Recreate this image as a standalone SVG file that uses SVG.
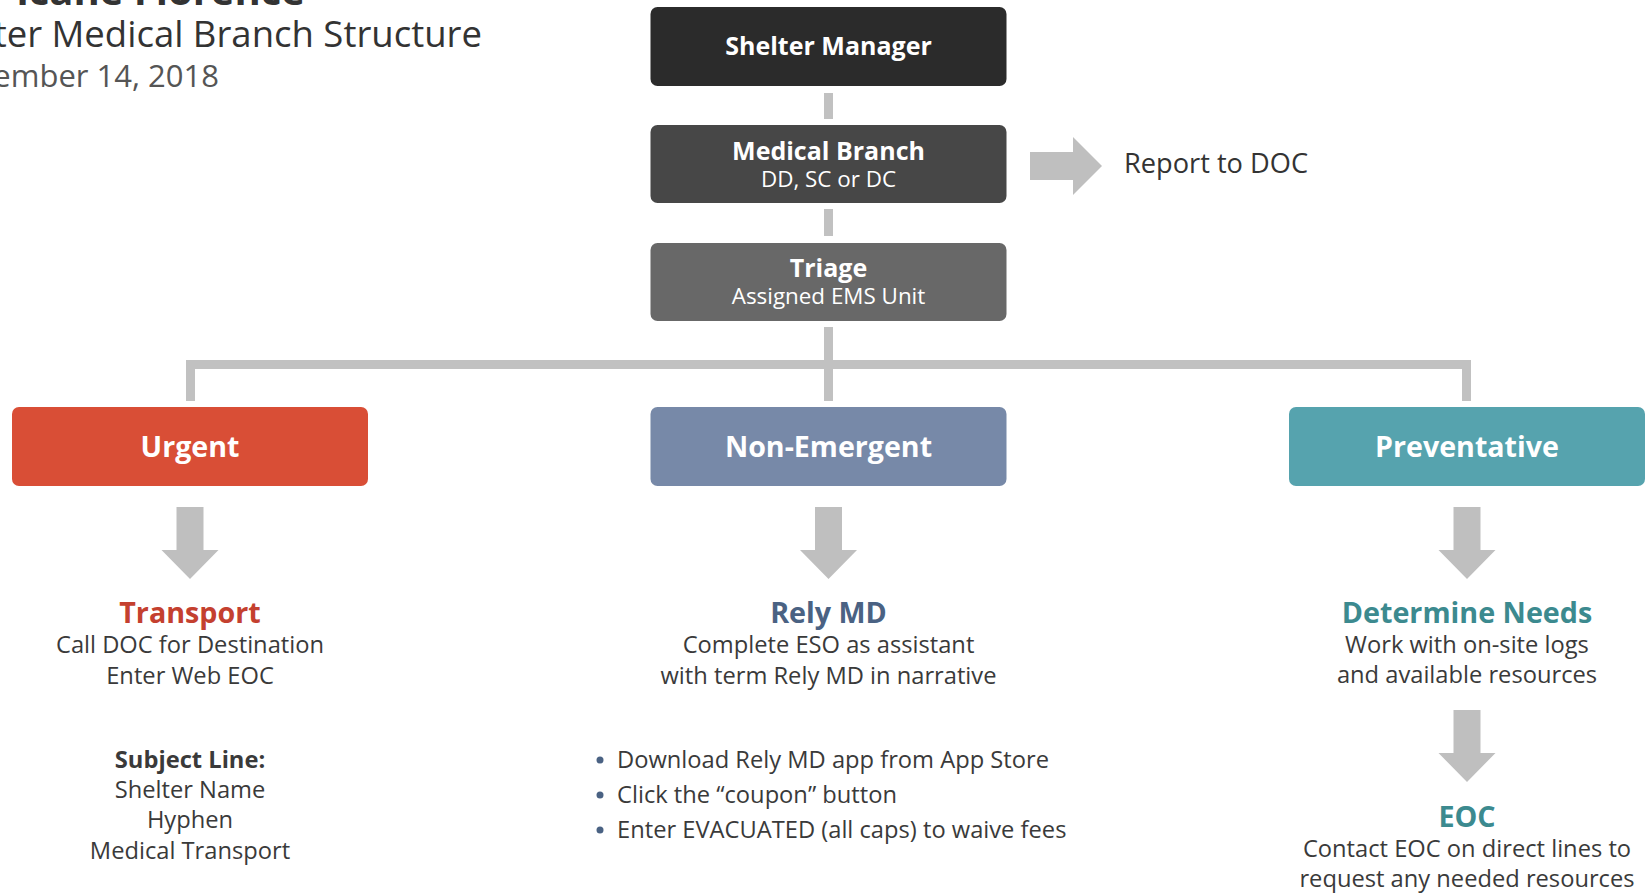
<svg xmlns="http://www.w3.org/2000/svg" width="1648" height="896" viewBox="0 0 1648 896">
<style>
text{font-family:"Open Sans","Noto Sans","Liberation Sans",sans-serif}
.bx{font-weight:700;fill:#fff;text-anchor:middle}
.sub{fill:#fff;text-anchor:middle;font-size:22.4px}
.hd{font-weight:700;font-size:28.7px;text-anchor:middle}
.bd{fill:#3a3a3a;font-size:23.7px;text-anchor:middle}
.bl{fill:#3a3a3a;font-size:23.7px}
.conn{fill:#c1c1c1}
.arr{fill:#bfbfbf}
</style>
<rect width="1648" height="896" fill="#fff"/>
<g id="title">
<text x="305" y="5" text-anchor="end" font-size="40" font-weight="700" fill="#333">icane Florence</text>
<text x="482" y="47" text-anchor="end" font-size="36.5" fill="#333">ter Medical Branch Structure</text>
<text x="219" y="87" text-anchor="end" font-size="31" fill="#555">ember 14, 2018</text>
</g>
<g id="connectors">
<rect class="conn" x="824" y="93" width="9" height="26"/>
<rect class="conn" x="824" y="209" width="9" height="27"/>
<rect class="conn" x="824" y="327" width="9" height="74"/>
<rect class="conn" x="186" y="360" width="1285" height="9"/>
<rect class="conn" x="186" y="360" width="9" height="41"/>
<rect class="conn" x="1462" y="360" width="9" height="41"/>
<path class="arr" d="M1030,152 H1073 V137 L1102,166 L1073,195 V180 H1030 Z"/>
<path class="arr" d="M176.5,507 H203.5 V550 H218.5 L190,579 L161.5,550 H176.5 Z"/>
<path class="arr" d="M815,507 H842 V550 H857 L828.5,579 L800,550 H815 Z"/>
<path class="arr" d="M1453.5,507 H1480.5 V550 H1495.5 L1467,579 L1438.5,550 H1453.5 Z"/>
<path class="arr" d="M1453.5,710 H1480.5 V753 H1495.5 L1467,782 L1438.5,753 H1453.5 Z"/>
</g>
<g id="shelter-manager">
<rect x="650.5" y="7" width="356" height="79" rx="7" fill="#2b2b2b"/>
<text class="bx" x="828.5" y="55" font-size="25">Shelter Manager</text>
</g>
<g id="medical-branch">
<rect x="650.5" y="125" width="356" height="78" rx="7" fill="#474747"/>
<text class="bx" x="828.5" y="160" font-size="25">Medical Branch</text>
<text class="sub" x="828.5" y="187">DD, SC or DC</text>
</g>
<g id="report">
<text x="1124" y="173" font-size="27.2" fill="#333">Report to DOC</text>
</g>
<g id="triage">
<rect x="650.5" y="243" width="356" height="78" rx="7" fill="#686868"/>
<text class="bx" x="828.5" y="277" font-size="25">Triage</text>
<text class="sub" x="828.5" y="304">Assigned EMS Unit</text>
</g>
<g id="urgent">
<rect x="12" y="407" width="356" height="79" rx="7" fill="#d94e36"/>
<text class="bx" x="190" y="457" font-size="28.6">Urgent</text>
</g>
<g id="non-emergent">
<rect x="650.5" y="407" width="356" height="79" rx="7" fill="#7789a8"/>
<text class="bx" x="828.5" y="457" font-size="28.6">Non-Emergent</text>
</g>
<g id="preventative">
<rect x="1289" y="407" width="356" height="79" rx="7" fill="#56a3ae"/>
<text class="bx" x="1467" y="457" font-size="28.6">Preventative</text>
</g>
<g id="transport">
<text class="hd" x="190" y="623" fill="#c4402f">Transport</text>
<text class="bd" x="190" y="653">Call DOC for Destination</text>
<text class="bd" x="190" y="684">Enter Web EOC</text>
</g>
<g id="subject-line">
<text class="bd" x="190" y="768" font-weight="700" fill="#333">Subject Line:</text>
<text class="bd" x="190" y="798">Shelter Name</text>
<text class="bd" x="190" y="828">Hyphen</text>
<text class="bd" x="190" y="859">Medical Transport</text>
</g>
<g id="rely-md">
<text class="hd" x="828.5" y="623" fill="#4a6283">Rely MD</text>
<text class="bd" x="828.5" y="653">Complete ESO as assistant</text>
<text class="bd" x="828.5" y="684">with term Rely MD in narrative</text>
</g>
<g id="rely-steps">
<circle cx="600" cy="760" r="3.5" fill="#4a6283"/>
<circle cx="600" cy="795" r="3.5" fill="#4a6283"/>
<circle cx="600" cy="830" r="3.5" fill="#4a6283"/>
<text class="bl" x="617" y="768">Download Rely MD app from App Store</text>
<text class="bl" x="617" y="803">Click the “coupon” button</text>
<text class="bl" x="617" y="838">Enter EVACUATED (all caps) to waive fees</text>
</g>
<g id="determine-needs">
<text class="hd" x="1467" y="623" fill="#3c8a8f">Determine Needs</text>
<text class="bd" x="1467" y="653">Work with on-site logs</text>
<text class="bd" x="1467" y="683">and available resources</text>
</g>
<g id="eoc">
<text class="hd" x="1467" y="827" fill="#3c8a8f">EOC</text>
<text class="bd" x="1467" y="857">Contact EOC on direct lines to</text>
<text class="bd" x="1467" y="887">request any needed resources</text>
</g>
</svg>
